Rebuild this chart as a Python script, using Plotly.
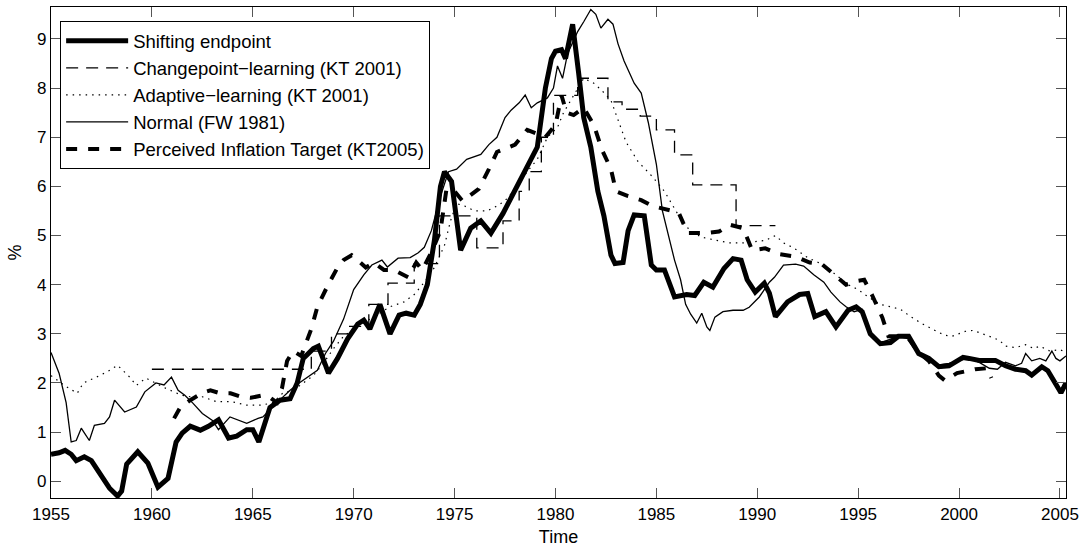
import plotly.graph_objects as go

# ---------------- data ----------------
se_x = [1955.0, 1955.4, 1955.7, 1956.0, 1956.25, 1956.65, 1957.0, 1957.4, 1957.9, 1958.3,
        1958.5, 1958.75, 1959.3, 1959.8, 1960.3, 1960.8, 1961.2, 1961.5, 1961.9, 1962.4,
        1962.8, 1963.3, 1963.8, 1964.2, 1964.7, 1965.0, 1965.3, 1965.85, 1966.35, 1966.85,
        1967.2, 1967.5, 1968.0, 1968.25, 1968.5, 1968.75, 1969.2, 1969.7, 1970.2, 1970.5,
        1970.8, 1971.3, 1971.8, 1972.25, 1972.6, 1973.0, 1973.3, 1973.65, 1974.0, 1974.3,
        1974.5, 1974.85, 1975.3, 1975.8, 1976.3, 1976.8, 1977.4, 1978.1, 1978.8, 1979.1,
        1979.5, 1979.8, 1980.0, 1980.3, 1980.5, 1980.85, 1981.15, 1981.4, 1981.75, 1982.1,
        1982.4, 1982.75, 1982.95, 1983.35, 1983.6, 1983.9, 1984.4, 1984.75, 1985.0, 1985.4,
        1985.9, 1986.5, 1986.9, 1987.35, 1987.8, 1988.35, 1988.8, 1989.2, 1989.5, 1989.9,
        1990.35, 1990.6, 1990.9, 1991.5, 1992.1, 1992.5, 1992.85, 1993.4, 1993.9, 1994.5,
        1994.9, 1995.2, 1995.6, 1996.1, 1996.6, 1997.0, 1997.5, 1998.0, 1998.5, 1999.0,
        1999.5, 2000.2, 2000.5, 2001.0, 2001.8, 2002.3, 2002.8, 2003.3, 2003.6, 2004.1,
        2004.4, 2004.75, 2005.05, 2005.3]
se_y = [0.55, 0.58, 0.63, 0.55, 0.42, 0.5, 0.42, 0.16, -0.14, -0.3,
        -0.2, 0.35, 0.6, 0.37, -0.12, 0.06, 0.8, 0.98, 1.12, 1.04,
        1.12, 1.25, 0.88, 0.92, 1.05, 1.05, 0.8, 1.5, 1.65, 1.68,
        2.0, 2.5, 2.7, 2.75, 2.5, 2.2, 2.5, 2.9, 3.2, 3.28,
        3.1, 3.6, 3.0, 3.38, 3.42, 3.38, 3.6, 4.0, 4.9, 6.0,
        6.3, 6.1, 4.7, 5.15, 5.3, 5.05, 5.45, 6.0, 6.6, 6.8,
        8.0, 8.6, 8.75, 8.78, 8.6, 9.3, 8.3, 7.4, 6.8, 5.9,
        5.4, 4.6, 4.43, 4.45, 5.1, 5.42, 5.4, 4.4, 4.3, 4.3,
        3.75, 3.8, 3.78, 4.05, 3.95, 4.33, 4.53, 4.5, 4.1, 3.85,
        4.03, 3.83, 3.35, 3.65, 3.8, 3.82, 3.35, 3.45, 3.14, 3.48,
        3.55, 3.45, 3.0, 2.8, 2.82, 2.95, 2.95, 2.6, 2.5, 2.33,
        2.35, 2.52, 2.5, 2.46, 2.46, 2.35, 2.28, 2.25, 2.16, 2.33,
        2.25, 2.0, 1.8, 2.0]

cp_x = [1960.0, 1967.9, 1968.9, 1969.8, 1970.75, 1971.7, 1973.0, 1974.25, 1976.1, 1977.4,
        1978.2, 1978.7, 1979.3, 1979.9, 1981.1, 1982.6, 1983.3, 1984.2, 1985.0, 1985.9,
        1986.8, 1988.95, 1990.9]
cp_y = [2.28, 2.65, 3.0, 3.15, 3.6, 4.03, 4.43, 5.4, 4.75, 5.3,
        5.9, 6.3, 7.0, 7.85, 8.2, 7.72, 7.57, 7.43, 7.15, 6.64,
        6.03, 5.2, 5.2]

al_x = [1955.0, 1955.67, 1956.3, 1956.6, 1957.25, 1957.8, 1958.3, 1958.9, 1959.23, 1959.7,
        1960.7, 1961.47, 1961.9, 1962.5, 1963.2, 1963.95, 1964.7, 1965.45, 1966.0, 1966.5,
        1967.0, 1967.5, 1968.0, 1968.5, 1969.0, 1969.5, 1970.2, 1971.0, 1971.8, 1972.5,
        1973.0, 1973.5, 1974.0, 1974.5, 1974.8, 1975.1, 1975.5, 1976.0, 1976.6, 1977.2,
        1977.6, 1978.1, 1978.6, 1979.1, 1979.6, 1980.1, 1980.4, 1980.9, 1981.4, 1981.9,
        1982.3, 1982.75, 1983.1, 1983.5, 1984.1, 1984.8, 1985.4, 1985.9, 1986.4, 1987.2,
        1988.0, 1988.6, 1989.3, 1990.4, 1990.9, 1991.3, 1991.8, 1992.5, 1993.3, 1993.9,
        1994.5, 1995.0, 1995.5, 1996.1, 1996.6, 1997.1, 1997.6, 1998.2, 1998.8, 1999.3,
        1999.65, 2000.3, 2000.7, 2001.0, 2001.5, 2002.0, 2002.3, 2002.8, 2003.3, 2003.7,
        2004.0, 2004.5, 2005.0, 2005.3]
al_y = [2.15, 1.95, 1.79, 2.0, 2.12, 2.23, 2.36, 2.12, 1.95, 2.1,
        1.89, 1.75, 1.72, 1.72, 1.62, 1.62, 1.55, 1.55, 1.6, 1.8,
        1.85, 2.0, 2.15, 2.4, 2.7, 2.95, 3.15, 3.35, 3.55, 3.65,
        3.8, 4.05, 4.35, 4.8, 5.3, 5.65, 5.6, 5.5, 5.5, 5.62,
        5.75, 6.0, 6.3, 6.55, 7.0, 7.2, 7.5, 7.85, 8.2, 8.1,
        7.95, 7.75, 7.35, 6.9, 6.5, 6.2, 5.9, 5.55, 5.2, 4.97,
        4.9, 4.85, 4.85, 4.9, 5.0, 4.85, 4.75, 4.55, 4.4, 4.2,
        4.0, 3.9, 3.75, 3.6, 3.55, 3.5, 3.35, 3.2, 3.07, 2.97,
        2.95, 3.05, 3.07, 3.02, 2.95, 2.87, 2.75, 2.72, 2.78, 2.7,
        2.75, 2.65, 2.68, 2.62]

fw_x = [1955.0, 1955.4, 1955.75, 1956.0, 1956.25, 1956.5, 1956.66, 1956.9, 1957.15, 1957.65,
        1957.9, 1958.15, 1958.65, 1959.23, 1959.65, 1960.2, 1960.6, 1960.97, 1961.3, 1961.63,
        1962.03, 1962.5, 1963.0, 1963.3, 1963.87, 1964.27, 1964.7, 1965.26, 1965.5, 1966.2,
        1966.85, 1967.3, 1968.2, 1968.6, 1969.0, 1969.5, 1970.0, 1970.5, 1970.9, 1971.4,
        1971.67, 1972.2, 1972.8, 1973.2, 1973.5, 1973.85, 1974.3, 1974.7, 1975.1, 1975.6,
        1976.3, 1976.7, 1977.1, 1977.5, 1977.8, 1978.2, 1978.5, 1978.8, 1979.1, 1979.6,
        1979.9, 1980.1, 1980.35, 1980.6, 1980.9, 1981.1, 1981.4, 1981.75, 1982.0, 1982.25,
        1982.6, 1982.85, 1983.1, 1983.4, 1983.9, 1984.25, 1984.6, 1985.0, 1985.3, 1985.6,
        1985.9, 1986.2, 1986.45, 1986.7, 1987.0, 1987.25, 1987.5, 1987.65, 1987.9, 1988.3,
        1988.8, 1989.3, 1989.6, 1990.1, 1990.6, 1990.85, 1991.3, 1991.9, 1992.3, 1992.8,
        1993.3, 1993.65, 1994.1, 1994.4, 1994.8, 1995.2, 1995.6, 1996.0, 1996.5, 1997.0,
        1997.5, 1998.0, 1998.5, 1999.0, 1999.5, 2000.0, 2000.5, 2001.0, 2001.5, 2001.9,
        2002.3, 2002.8, 2003.1, 2003.3, 2003.6, 2004.0, 2004.3, 2004.6, 2004.8, 2005.0,
        2005.3]
fw_y = [2.62, 2.2, 1.6, 0.8, 0.83, 1.08, 0.98, 0.83, 1.14, 1.18,
        1.31, 1.65, 1.41, 1.51, 1.82, 2.0, 1.96, 2.12, 1.85, 1.75,
        1.59, 1.38, 1.24, 1.05, 1.31, 1.24, 1.18, 1.28, 1.31, 1.6,
        1.85, 2.0, 2.26, 2.6, 2.85, 3.3, 3.9, 4.2, 4.4, 4.5,
        4.36, 4.54, 4.55, 4.65, 4.76, 5.1, 5.8, 6.3, 6.35, 6.55,
        6.65, 6.85, 7.0, 7.4, 7.55, 7.7, 7.86, 7.6, 7.7, 7.8,
        8.0, 8.45, 8.2, 8.7, 8.95, 9.15, 9.35, 9.6, 9.5, 9.22,
        9.4, 9.3, 8.9, 8.55, 8.1, 7.9, 7.3, 6.45, 5.5, 5.0,
        4.5, 4.1, 3.6, 3.4, 3.22, 3.42, 3.14, 3.07, 3.34, 3.45,
        3.48, 3.48, 3.54, 3.75, 4.05, 4.15, 4.4, 4.42, 4.38, 4.2,
        4.05, 3.85, 3.65, 3.55, 3.45, 3.5, 3.05, 2.8, 2.88, 2.95,
        2.9, 2.62, 2.45, 2.37, 2.4, 2.45, 2.52, 2.42, 2.3, 2.28,
        2.42, 2.35, 2.4, 2.6, 2.45, 2.5, 2.45, 2.65, 2.5, 2.45,
        2.55]

pt_x = [1961.1, 1961.4, 1961.9, 1962.5, 1962.9, 1963.4, 1963.9, 1964.4, 1964.9, 1965.4,
        1965.8, 1966.2, 1966.45, 1966.7, 1967.0, 1967.4, 1967.9, 1968.2, 1968.7, 1969.2,
        1969.5, 1969.9, 1970.2, 1970.6, 1971.0, 1971.5, 1972.0, 1972.7, 1973.1, 1973.4,
        1973.9, 1974.3, 1974.6, 1975.0, 1975.4, 1976.2, 1976.7, 1977.1, 1978.0, 1978.6,
        1979.5, 1980.0, 1980.3, 1980.55, 1980.9, 1981.4, 1981.9, 1982.3, 1982.75, 1983.0,
        1983.6, 1984.25, 1984.8, 1985.3, 1986.1, 1986.55, 1987.5, 1988.1, 1988.65, 1989.3,
        1989.75, 1990.4, 1991.1, 1991.9, 1992.6, 1993.2, 1993.85, 1994.4, 1995.0, 1995.3,
        1995.7, 1996.2, 1996.5, 1997.0, 1997.5, 1998.0, 1998.5, 1999.0, 1999.3, 1999.9,
        2000.8, 2001.4, 2001.6]
pt_y = [1.28, 1.5, 1.65, 1.8, 1.85, 1.79, 1.79, 1.72, 1.7, 1.74,
        1.72, 1.6, 1.9, 2.45, 2.65, 2.55, 3.1, 3.55, 3.97, 4.35,
        4.5, 4.6, 4.5, 4.35, 4.45, 4.3, 4.3, 4.15, 4.45, 4.3,
        4.7, 5.1, 5.95, 5.9, 5.7, 5.95, 6.35, 6.7, 6.85, 7.15,
        7.0, 7.25, 7.85, 7.5, 7.45, 7.6, 7.25, 6.75, 6.35, 5.9,
        5.8, 5.72, 5.6, 5.55, 5.47, 5.05, 5.05, 5.08, 5.22, 5.15,
        4.7, 4.74, 4.62, 4.57, 4.45, 4.42, 4.2, 4.0, 4.08, 4.1,
        3.78, 3.33, 2.95, 2.95, 2.9, 2.62, 2.45, 2.15, 2.05, 2.2,
        2.28, 2.3, 2.1]

x_ticks = [1955, 1960, 1965, 1970, 1975, 1980, 1985, 1990, 1995, 2000, 2005]
y_ticks = [0, 1, 2, 3, 4, 5, 6, 7, 8, 9]

names = ["Shifting endpoint", "Changepoint\u2212learning (KT 2001)",
         "Adaptive\u2212learning (KT 2001)", "Normal (FW 1981)",
         "Perceived Inflation Target (KT2005)"]

# ---------------- figure ----------------
FONT = "Liberation Sans, Arial, Helvetica, sans-serif"
fig = go.Figure()
fig.add_trace(go.Scatter(x=se_x, y=se_y, mode="lines", name=names[0],
                         line=dict(color="black", width=5)))
fig.add_trace(go.Scatter(x=cp_x, y=cp_y, mode="lines", name=names[1],
                         line=dict(color="black", width=1.3, dash="12px,8px", shape="hv")))
fig.add_trace(go.Scatter(x=al_x, y=al_y, mode="lines", name=names[2],
                         line=dict(color="black", width=1.2, dash="1.5px,5px")))
fig.add_trace(go.Scatter(x=fw_x, y=fw_y, mode="lines", name=names[3],
                         line=dict(color="black", width=1.3)))
fig.add_trace(go.Scatter(x=pt_x, y=pt_y, mode="lines", name=names[4],
                         line=dict(color="black", width=4, dash="11px,11px")))

axis_common = dict(showgrid=False, zeroline=False, showline=True, linecolor="black",
                   linewidth=1.3, mirror="ticks", ticks="inside", ticklen=10,
                   tickcolor="#555555", tickwidth=1,
                   tickfont=dict(family=FONT, size=17, color="black"))

fig.update_xaxes(range=[1955, 2005.3], tickvals=x_ticks, ticktext=[str(v) for v in x_ticks],
                 title=dict(text="Time", font=dict(family=FONT, size=18, color="black"), standoff=7),
                 **axis_common)
fig.update_yaxes(range=[-0.34, 9.65], tickvals=y_ticks, ticktext=[str(v) for v in y_ticks],
                 title=dict(text="%", font=dict(family=FONT, size=18, color="black"), standoff=10),
                 **axis_common)

fig.update_layout(
    width=1087, height=554,
    margin=dict(l=51, r=21, t=7, b=56),
    paper_bgcolor="white", plot_bgcolor="white",
    font=dict(family=FONT, size=17, color="black"),
    showlegend=True,
    legend=dict(x=0.009, y=0.971, xanchor="left", yanchor="top",
                bgcolor="white", bordercolor="black", borderwidth=1,
                font=dict(family=FONT, size=18.5, color="black"),
                itemwidth=62, tracegroupgap=0),
)

fig.write_html("out.html")
